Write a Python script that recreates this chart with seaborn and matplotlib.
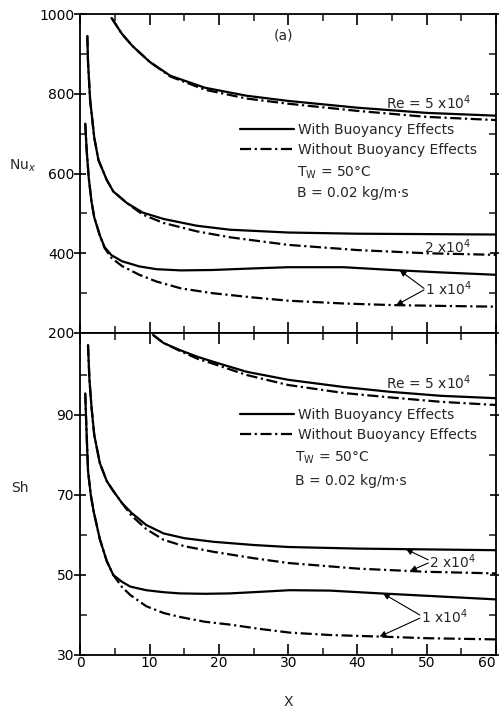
import numpy as np
import pandas as pd
import matplotlib
matplotlib.use("Agg")
import matplotlib.pyplot as plt
from matplotlib.lines import Line2D
from matplotlib.ticker import MultipleLocator, FixedLocator
import seaborn as sns

sns.set_style("ticks")
plt.rcParams["font.family"] = ["DejaVu Sans"]
plt.rcParams["mathtext.fontset"] = "dejavusans"
plt.rcParams["axes.linewidth"] = 1.3

# ---------------- data ----------------
# Top panel: Nu_x vs X
nu5_x = [4.5, 6, 7.5, 10, 13, 18, 24, 30, 40, 50, 60]
nu5_with = [990, 950, 920, 880, 845, 815, 795, 782, 765, 752, 745]
nu5_without = [990, 950, 920, 880, 843, 810, 788, 775, 757, 742, 734]

nu2_x = [1.0, 1.1, 1.4, 2.0, 2.6, 3.8, 4.75, 6.7, 9, 12, 16.8, 21.6, 30, 40, 50, 60]
nu2_with = [945, 880, 785, 690, 634, 584, 555, 526, 502, 486, 469, 459, 452, 449, 448, 447]
nu2_without = [945, 880, 785, 690, 634, 584, 555, 526, 497, 476, 455, 440, 421, 408, 400, 396]

nu1_x = [0.7, 0.9, 1.2, 1.6, 2.0, 2.8, 3.5, 4.5, 6, 8.5, 11, 14.5, 19, 25, 30, 38, 45, 52, 60]
nu1_with = [725, 660, 590, 530, 490, 445, 415, 395, 380, 367, 360, 357, 358, 362, 365, 365, 358, 352, 346]
nu1_without = [725, 660, 590, 530, 490, 445, 413, 388, 368, 346, 329, 312, 300, 289, 281, 274, 270, 268, 266]

# Bottom panel: Sh vs X
sh5_x = [10.5, 12, 14.4, 17, 19.2, 24, 30, 38, 44.7, 52, 60]
sh5_with = [110, 108, 106.2, 104.5, 103.3, 100.8, 98.8, 97.0, 95.8, 94.8, 94.2]
sh5_without = [110, 108, 106.0, 104.0, 102.8, 100.0, 97.5, 95.5, 94.4, 93.3, 92.5]

sh2_x = [1.1, 1.3, 1.6, 2.0, 2.8, 3.8, 4.75, 6, 7.4, 9.5, 12, 15, 19.2, 25, 30, 40, 50, 60]
sh2_with = [107.5, 99, 92, 85, 78, 73.5, 71, 68, 65.5, 62.5, 60.4, 59.2, 58.3, 57.5, 57.0, 56.6, 56.4, 56.2]
sh2_without = [107.5, 99, 92, 85, 78, 73.5, 71, 68, 64.8, 61.5, 58.8, 57.2, 55.8, 54.2, 53.0, 51.6, 50.8, 50.4]

sh1_x = [0.7, 0.8, 1.1, 1.5, 1.9, 2.8, 3.8, 4.75, 6, 7.2, 9.5, 12, 14.4, 18, 21.6, 26, 30.2, 36, 43.3, 50, 60]
sh1_with = [95.4, 90, 76, 70, 66, 59, 53.5, 50, 48.3, 47.1, 46.2, 45.7, 45.4, 45.3, 45.4, 45.8, 46.2, 46.1, 45.4, 44.8, 43.9]
sh1_without = [95.4, 90, 76, 70, 66, 59, 53.5, 50, 47.0, 45.0, 42.2, 40.5, 39.5, 38.3, 37.6, 36.5, 35.6, 35.0, 34.6, 34.2, 33.9]

x_ticks = [0, 10, 20, 30, 40, 50, 60]
labels_buoy = ["With Buoyancy Effects", "Without Buoyancy Effects"]


def build(curves):
    rows = []
    for name, xs, yw, yo in curves:
        for xv, a in zip(xs, yw):
            rows.append((name + "w", xv, a, "with"))
        for xv, b in zip(xs, yo):
            rows.append((name + "o", xv, b, "without"))
    return pd.DataFrame(rows, columns=["curve", "x", "val", "buoy"])


df_top = build([("5", nu5_x, nu5_with, nu5_without),
                ("2", nu2_x, nu2_with, nu2_without),
                ("1", nu1_x, nu1_with, nu1_without)])
df_bot = build([("5", sh5_x, sh5_with, sh5_without),
                ("2", sh2_x, sh2_with, sh2_without),
                ("1", sh1_x, sh1_with, sh1_without)])

DASHDOT = (5, 1.6, 1, 1.6)
dashes = {"with": "", "without": DASHDOT}

fig = plt.figure(figsize=(4.99, 7.13), dpi=100)
L, W = 80.4 / 499, (496 - 80.4) / 499
ax1 = fig.add_axes([L, 1 - 333 / 713, W, 319 / 713])
ax2 = fig.add_axes([L, 1 - 655 / 713, W, 322 / 713])

for ax, df in ((ax1, df_top), (ax2, df_bot)):
    sns.lineplot(data=df, x="x", y="val", units="curve", estimator=None,
                 style="buoy", dashes=dashes, color="k", lw=1.6,
                 sort=False, legend=False, ax=ax)
    ax.set_xlim(0, 60)
    ax.xaxis.set_major_locator(FixedLocator(x_ticks))
    ax.xaxis.set_minor_locator(MultipleLocator(5))
    ax.tick_params(axis="x", which="both", direction="in", top=True, bottom=True)
    ax.tick_params(axis="x", which="major", length=8, width=1.2)
    ax.tick_params(axis="x", which="minor", length=5, width=1.2)
    ax.tick_params(axis="y", which="both", left=True, right=True, width=1.2)
    ax.tick_params(axis="y", which="major", direction="inout", length=9, pad=0)
    ax.tick_params(axis="y", which="minor", direction="in", length=5)
    ax.tick_params(labelsize=10, colors="k")
    for s in ax.spines.values():
        s.set_visible(True)
        s.set_color("k")
    ax.set_xlabel("")
    ax.set_ylabel("")

# top panel axes
ax1.set_ylim(200, 1000)
ax1.yaxis.set_major_locator(FixedLocator([200, 400, 600, 800, 1000]))
ax1.yaxis.set_minor_locator(FixedLocator([300, 500, 700, 900]))
ax1.tick_params(axis="x", labelbottom=False)
ax1.set_ylabel("Nu$_x$", rotation=0, fontsize=10)
ax1.yaxis.set_label_coords(-0.14, 0.50)

# bottom panel axes
ax2.set_ylim(30, 110.5)
ax2.yaxis.set_major_locator(FixedLocator([30, 50, 70, 90]))
ax2.yaxis.set_minor_locator(FixedLocator([40, 60, 80, 100]))
ax2.tick_params(axis="x", which="major", pad=1)
ax2.set_ylabel("Sh", rotation=0, fontsize=10)
ax2.yaxis.set_label_coords(-0.145, 0.497)
ax2.set_xlabel("X", fontsize=10)
ax2.xaxis.set_label_coords(0.5, -0.125)
fig.canvas.draw()
last_tick = ax2.xaxis.get_major_ticks()[len(x_ticks) - 1]
last_tick.label1.set_horizontalalignment("right")

# legends
handles = [Line2D([], [], color="k", lw=1.6),
           Line2D([], [], color="k", lw=1.6, dashes=DASHDOT)]
for ax, ytop in ((ax1, 0.659), (ax2, 0.767)):
    ax.legend(handles=handles, labels=labels_buoy, loc="upper left",
              bbox_to_anchor=(0.384, ytop), frameon=False, handlelength=3.9,
              handletextpad=0.25, labelspacing=0.45, borderpad=0,
              borderaxespad=0, fontsize=10)

fs = 10
TW = r"T$_\mathrm{W}$ = 50°C"
# top annotations
ax1.text(29.25, 945, "(a)", ha="center", va="center", fontsize=fs)
ax1.text(56.5, 777, "Re = 5 x10$^4$", ha="right", va="center", fontsize=fs)
ax1.text(31.25, 601, TW, ha="left", va="center", fontsize=fs)
ax1.text(31.25, 551, "B = 0.02 kg/m·s", ha="left", va="center", fontsize=fs)
ax1.text(56.3, 416, "2 x10$^4$", ha="right", va="center", fontsize=fs)
ax1.text(49.8, 310, "1 x10$^4$", ha="left", va="center", fontsize=fs)

# bottom annotations
ax2.text(56.5, 98, "Re = 5 x10$^4$", ha="right", va="center", fontsize=fs)
ax2.text(31.0, 79.3, TW, ha="left", va="center", fontsize=fs)
ax2.text(31.0, 73.5, "B = 0.02 kg/m·s", ha="left", va="center", fontsize=fs)
ax2.text(50.3, 53.4, "2 x10$^4$", ha="left", va="center", fontsize=fs)
ax2.text(49.2, 39.6, "1 x10$^4$", ha="left", va="center", fontsize=fs)

arrow = dict(arrowstyle="-|>", color="k", lw=0.8, mutation_scale=9,
             shrinkA=0, shrinkB=0)


def point_arrow(ax, start, xs, ys, xt):
    ax.annotate("", xy=(xt, float(np.interp(xt, xs, ys))), xytext=start,
                arrowprops=arrow)


point_arrow(ax1, (49.6, 312), nu1_x, nu1_with, 46.1)
point_arrow(ax1, (49.6, 308), nu1_x, nu1_without, 45.6)
point_arrow(ax2, (50.2, 53.8), sh2_x, sh2_with, 47.0)
point_arrow(ax2, (50.2, 53.0), sh2_x, sh2_without, 47.6)
point_arrow(ax2, (49.0, 40.0), sh1_x, sh1_with, 43.7)
point_arrow(ax2, (49.0, 39.2), sh1_x, sh1_without, 43.2)

fig.savefig("out.png", dpi=100)
